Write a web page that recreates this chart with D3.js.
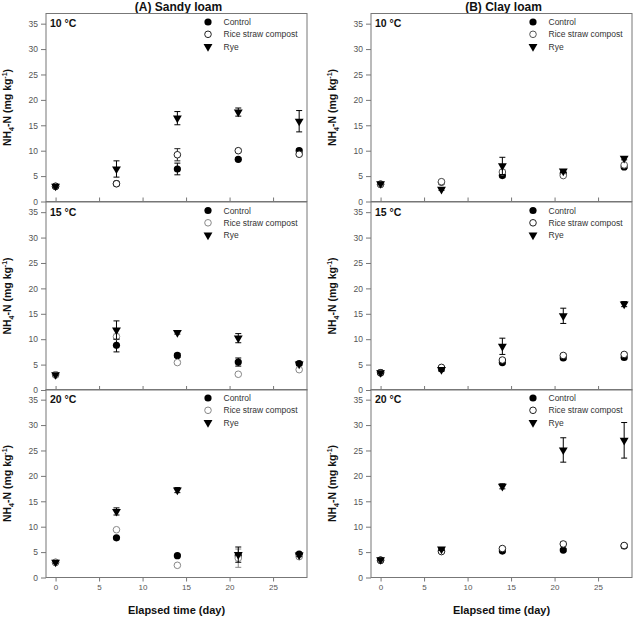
<!DOCTYPE html>
<html>
<head>
<meta charset="utf-8">
<script src="https://cdn.jsdelivr.net/npm/d3@7"></script>
<style>
  body { margin: 0; background: #fff; }
  text { font-family: "Liberation Sans", Arial, sans-serif; }
</style>
</head>
<body>
<div id="chart"></div>
<script>
// sampling days
var days = [0, 7, 14, 21, 28];
var seriesNames = ['Control', 'Rice straw compost', 'Rye'];
var xTicks = [0, 5, 10, 15, 20, 25];
var yTicks = [0, 5, 10, 15, 20, 25, 30, 35];
var columnTitles = ['(A) Sandy loam', '(B) Clay loam'];
var tempLabels = ['10 \u00B0C', '15 \u00B0C', '20 \u00B0C'];

// (A) Sandy loam
var sandy10Control = [3.0, 3.5, 6.4, 8.3, 10.0];
var sandy10ControlErr = [0.2, 0.2, 1.15, 0.3, 0.3];
var sandy10Rice = [3.0, 3.5, 9.2, 10.0, 9.3];
var sandy10RiceErr = [0, 0.2, 1.2, 0.3, 0.3];
var sandy10Rye = [3.0, 6.4, 16.4, 17.6, 15.8];
var sandy10RyeErr = [0.3, 1.6, 1.3, 0.8, 2.1];

var sandy15Control = [3.0, 8.8, 6.8, 5.5, 5.2];
var sandy15ControlErr = [0.2, 1.3, 0.4, 0.8, 0.3];
var sandy15Rice = [3.0, 10.5, 5.4, 3.1, 4.0];
var sandy15RiceErr = [0, 0.5, 0.3, 0, 0];
var sandy15Rye = [3.0, 11.8, 11.3, 10.2, 5.1];
var sandy15RyeErr = [0.2, 1.8, 0.3, 0.9, 0.2];

var sandy20Control = [3.0, 7.8, 4.3, 4.3, 4.6];
var sandy20ControlErr = [0.2, 0.2, 0.2, 0.5, 0.3];
var sandy20Rice = [3.0, 9.4, 2.4, 3.8, 4.1];
var sandy20RiceErr = [0, 0, 0, 1.8, 0.3];
var sandy20Rye = [3.0, 13.0, 17.2, 4.5, 4.4];
var sandy20RyeErr = [0.2, 0.7, 0.5, 1.5, 0.3];

// (B) Clay loam
var clay10Control = [3.4, 3.8, 5.1, 5.5, 6.8];
var clay10ControlErr = [0.2, 0.2, 0.3, 0.3, 0.3];
var clay10Rice = [3.4, 3.9, 5.8, 5.1, 7.2];
var clay10RiceErr = [0, 0, 0.4, 0, 0];
var clay10Rye = [3.5, 2.4, 7.0, 6.0, 8.5];
var clay10RyeErr = [0.2, 0.2, 1.7, 0.3, 0.3];

var clay15Control = [3.4, 4.2, 5.4, 6.3, 6.4];
var clay15ControlErr = [0.2, 0.2, 0.3, 0.3, 0.3];
var clay15Rice = [3.4, 4.45, 5.9, 6.8, 7.0];
var clay15RiceErr = [0, 0, 0.3, 0.3, 0.3];
var clay15Rye = [3.4, 4.0, 8.6, 14.6, 16.9];
var clay15RyeErr = [0.2, 0.3, 1.6, 1.5, 0.5];

var clay20Control = [3.4, 5.3, 5.2, 5.4, 6.2];
var clay20ControlErr = [0.2, 0.2, 0.2, 0.3, 0.3];
var clay20Rice = [3.4, 5.1, 5.7, 6.6, 6.3];
var clay20RiceErr = [0, 0, 0.3, 0.4, 0.3];
var clay20Rye = [3.5, 5.6, 17.95, 25.1, 27.0];
var clay20RyeErr = [0.2, 0.3, 0.5, 2.4, 3.5];

var panels = [
  {col: 0, row: 0, ctrl: sandy10Control, ctrlErr: sandy10ControlErr, rice: sandy10Rice, riceErr: sandy10RiceErr, rye: sandy10Rye, ryeErr: sandy10RyeErr, riceColor: '#222'},
  {col: 0, row: 1, ctrl: sandy15Control, ctrlErr: sandy15ControlErr, rice: sandy15Rice, riceErr: sandy15RiceErr, rye: sandy15Rye, ryeErr: sandy15RyeErr, riceColor: '#888'},
  {col: 0, row: 2, ctrl: sandy20Control, ctrlErr: sandy20ControlErr, rice: sandy20Rice, riceErr: sandy20RiceErr, rye: sandy20Rye, ryeErr: sandy20RyeErr, riceColor: '#888'},
  {col: 1, row: 0, ctrl: clay10Control, ctrlErr: clay10ControlErr, rice: clay10Rice, riceErr: clay10RiceErr, rye: clay10Rye, ryeErr: clay10RyeErr, riceColor: '#555'},
  {col: 1, row: 1, ctrl: clay15Control, ctrlErr: clay15ControlErr, rice: clay15Rice, riceErr: clay15RiceErr, rye: clay15Rye, ryeErr: clay15RyeErr, riceColor: '#222'},
  {col: 1, row: 2, ctrl: clay20Control, ctrlErr: clay20ControlErr, rice: clay20Rice, riceErr: clay20RiceErr, rye: clay20Rye, ryeErr: clay20RyeErr, riceColor: '#222'}
];

var width = 636, height = 617;
var colLeft = [46, 371];
var plotW = 261;
var rowTop = [13.5, 202, 389.5];
var plotH = 188;

var svg = d3.select('#chart').append('svg')
  .attr('width', width)
  .attr('height', height);

var x = d3.scaleLinear().domain([-1.1, 28.9]).range([0, plotW]);
var y = d3.scaleLinear().domain([0, 37]).range([plotH, 0]);

var triangle = d3.symbol().type(d3.symbolTriangle).size(34);

// column titles
columnTitles.forEach(function(t, i) {
  svg.append('text')
    .attr('x', colLeft[i] + plotW / 2 + 2)
    .attr('y', 10.5)
    .attr('text-anchor', 'middle')
    .style('font-size', '12px')
    .style('font-weight', 'bold')
    .attr('fill', '#111')
    .text(t);
});

panels.forEach(function(p) {
  var g = svg.append('g')
    .attr('transform', 'translate(' + colLeft[p.col] + ',' + rowTop[p.row] + ')');

  // y axis
  var yAxis = g.append('g').call(d3.axisLeft(y).tickValues(yTicks).tickSize(5).tickPadding(3));
  yAxis.select('.domain').remove();
  yAxis.selectAll('line').attr('stroke', '#777');
  yAxis.selectAll('text').attr('fill', '#555').style('font-size', '8.5px')
    .style('font-family', '"Liberation Sans", Arial, sans-serif');

  // x axis
  var xAxis;
  if (p.row === 2) {
    xAxis = g.append('g').attr('transform', 'translate(0,' + plotH + ')')
      .call(d3.axisBottom(x).tickValues(xTicks).tickSize(4).tickPadding(3));
    xAxis.selectAll('text').attr('fill', '#555').style('font-size', '8px')
      .style('font-family', '"Liberation Sans", Arial, sans-serif');
  } else {
    xAxis = g.append('g').attr('transform', 'translate(0,' + plotH + ')')
      .call(d3.axisBottom(x).tickValues(xTicks).tickSize(-4).tickFormat(''));
  }
  xAxis.select('.domain').remove();
  xAxis.selectAll('line').attr('stroke', '#777');

  // frame
  g.append('rect')
    .attr('width', plotW)
    .attr('height', plotH)
    .attr('fill', 'none')
    .attr('stroke', '#777')
    .attr('stroke-width', 1);

  // y label
  var yl = g.append('text')
    .attr('transform', 'translate(' + (-35) + ',' + (plotH / 2) + ') rotate(-90)')
    .attr('text-anchor', 'middle')
    .style('font-size', '10.5px')
    .style('font-weight', 'bold')
    .attr('fill', '#111');
  yl.append('tspan').text('NH');
  yl.append('tspan').attr('dy', 3).style('font-size', '7px').text('4');
  yl.append('tspan').attr('dy', -3).text('-N (mg kg');
  yl.append('tspan').attr('dy', -4).style('font-size', '7px').text('-1');
  yl.append('tspan').attr('dy', 4).text(')');

  // temperature label
  g.append('text')
    .attr('x', 4)
    .attr('y', 13.8)
    .style('font-size', '10.5px')
    .style('font-weight', 'bold')
    .attr('fill', '#111')
    .text(tempLabels[p.row]);

  // series
  var series = [
    {vals: p.ctrl, err: p.ctrlErr, kind: 'filled', color: '#000'},
    {vals: p.rice, err: p.riceErr, kind: 'open', color: p.riceColor},
    {vals: p.rye, err: p.ryeErr, kind: 'tri', color: '#000'}
  ];

  series.forEach(function(s) {
    var pts = days.map(function(d, i) { return {day: d, v: s.vals[i], e: s.err[i]}; });
    var eb = g.append('g').attr('stroke', s.color).attr('stroke-width', 1);
    pts.filter(function(d) { return d.e > 0; }).forEach(function(d) {
      var cx = x(d.day);
      eb.append('line').attr('x1', cx).attr('x2', cx).attr('y1', y(d.v - d.e)).attr('y2', y(d.v + d.e));
      eb.append('line').attr('x1', cx - 3).attr('x2', cx + 3).attr('y1', y(d.v - d.e)).attr('y2', y(d.v - d.e));
      eb.append('line').attr('x1', cx - 3).attr('x2', cx + 3).attr('y1', y(d.v + d.e)).attr('y2', y(d.v + d.e));
    });
    if (s.kind === 'tri') {
      g.selectAll(null).data(pts).enter().append('path')
        .attr('d', triangle)
        .attr('transform', function(d) { return 'translate(' + x(d.day) + ',' + y(d.v) + ') rotate(180)'; })
        .attr('fill', s.color);
    } else {
      g.selectAll(null).data(pts).enter().append('circle')
        .attr('cx', function(d) { return x(d.day); })
        .attr('cy', function(d) { return y(d.v); })
        .attr('r', s.kind === 'open' ? 3.3 : 3.6)
        .attr('fill', s.kind === 'open' ? '#fff' : s.color)
        .attr('stroke', s.color)
        .attr('stroke-width', s.kind === 'open' ? 1 : 0);
    }
  });

  // legend
  var lg = g.append('g').attr('transform', 'translate(162,0)');
  seriesNames.forEach(function(name, i) {
    var ly = 8.5 + i * 12.3;
    var s = series[i];
    if (s.kind === 'tri') {
      lg.append('path').attr('d', triangle)
        .attr('transform', 'translate(0,' + ly + ') rotate(180)')
        .attr('fill', '#000');
    } else {
      lg.append('circle').attr('cx', 0).attr('cy', ly)
        .attr('r', s.kind === 'open' ? 3.3 : 3.6)
        .attr('fill', s.kind === 'open' ? '#fff' : '#000')
        .attr('stroke', s.color)
        .attr('stroke-width', s.kind === 'open' ? 1 : 0);
    }
    lg.append('text')
      .attr('x', 15.5)
      .attr('y', ly + 3)
      .style('font-size', '8.5px')
      .attr('fill', '#333')
      .text(name);
  });
});

// x axis titles
colLeft.forEach(function(cl) {
  svg.append('text')
    .attr('x', cl + plotW / 2)
    .attr('y', 614)
    .attr('text-anchor', 'middle')
    .style('font-size', '11px')
    .style('font-weight', 'bold')
    .attr('fill', '#111')
    .text('Elapsed time (day)');
});
</script>
</body>
</html>
